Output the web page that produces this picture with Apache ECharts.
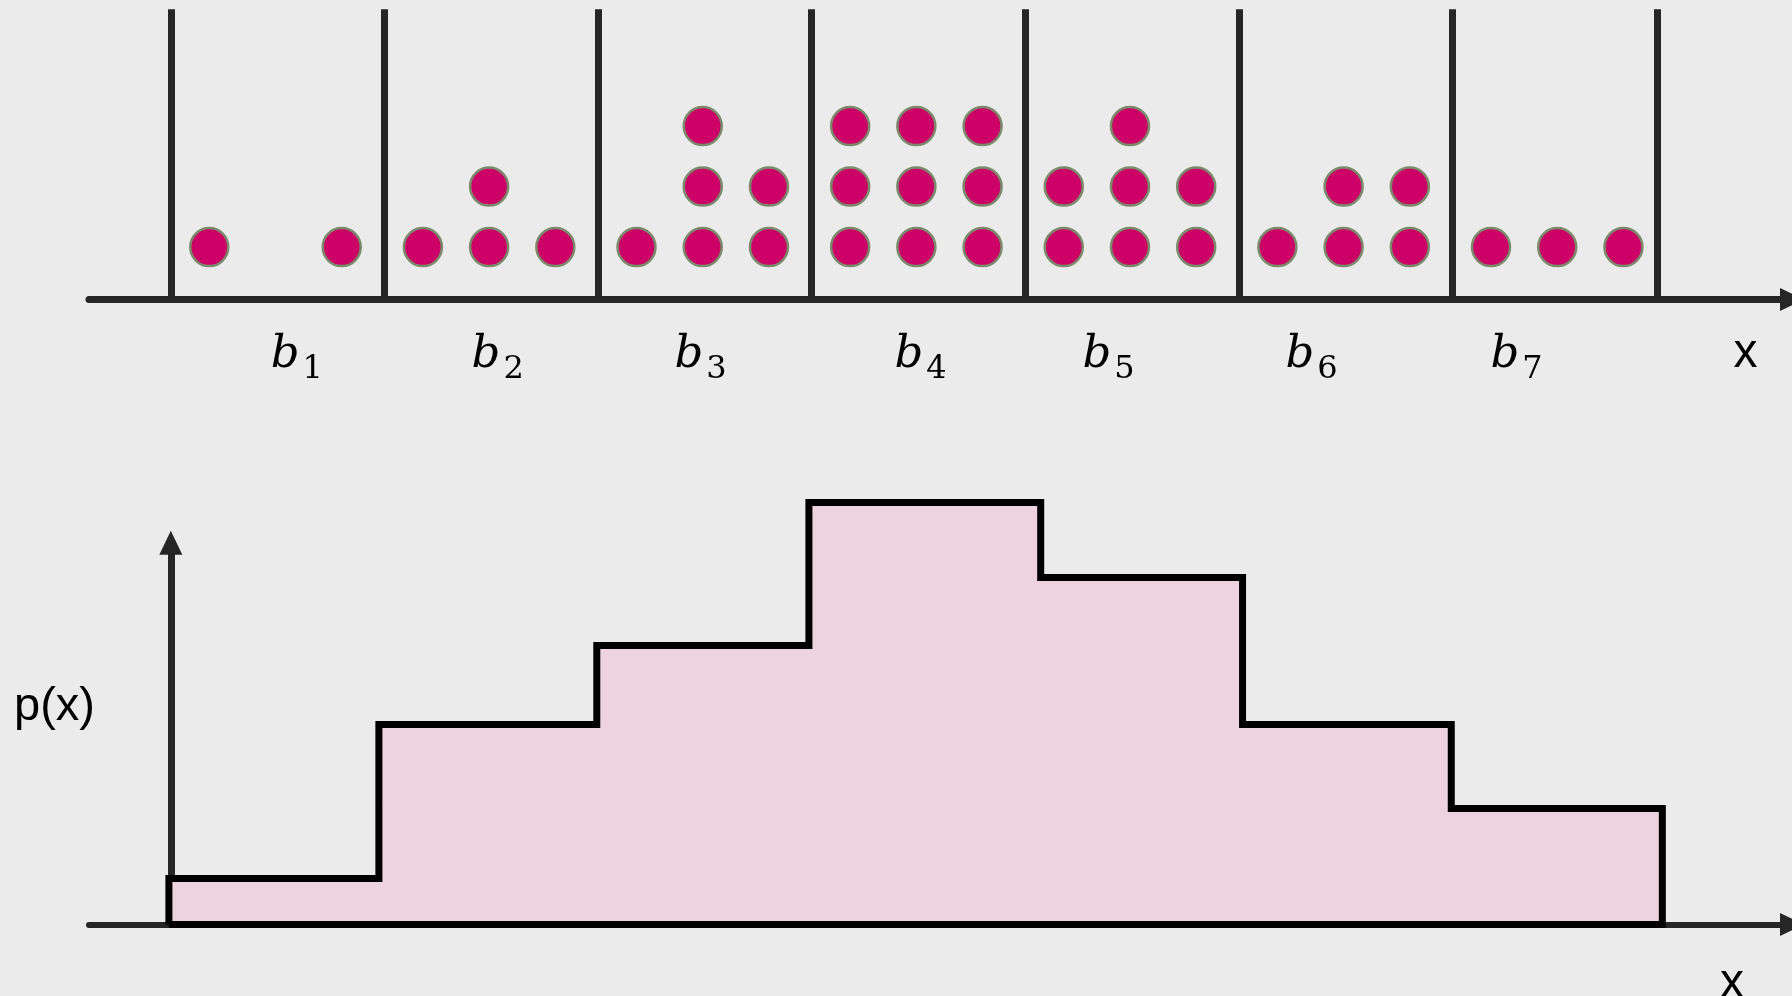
<!DOCTYPE html>
<html>
<head>
<meta charset="utf-8">
<script src="https://cdn.jsdelivr.net/npm/echarts@6/dist/echarts.min.js"></script>
<style>
  * { margin: 0; padding: 0; }
  body { background: #ebebeb; }
  #main { width: 1792px; height: 996px; }
</style>
</head>
<body>
<div id="main"></div>
<script>
// bin dividers of the top panel (x in bin-width units)
const binEdges = [0, 1, 2, 3, 4, 5, 6, 6.955];
// dots per column (left, middle, right) for each bin
const colCounts = [[1, 0, 1], [1, 2, 1], [1, 3, 2], [3, 3, 3], [2, 3, 2], [1, 2, 2], [1, 1, 1]];
const binNames = ["1", "2", "3", "4", "5", "6", "7"];
const labelAt = [0.59, 1.53, 2.48, 3.51, 4.39, 5.34, 6.3];
// histogram of the bottom panel
const histEdges = [-0.009, 0.974, 1.994, 2.987, 4.072, 5.017, 5.994, 6.982];
const pValues = [0.46, 2.0, 2.79, 4.22, 3.47, 2.0, 1.16];

const slotOffsets = [0.18, 0.49, 0.8];
const rowBase = 0.866;

var dots = [];
for (var i = 0; i < colCounts.length; i++) {
  for (var j = 0; j < 3; j++) {
    for (var k = 0; k < colCounts[i][j]; k++) {
      dots.push([binEdges[i] + slotOffsets[j], rowBase + k]);
    }
  }
}

// outline of the step histogram, closed along the axis
var steps = [[histEdges[0], 0]];
for (var n = 0; n < pValues.length; n++) {
  steps.push([histEdges[n], pValues[n]]);
  steps.push([histEdges[n + 1], pValues[n]]);
}
steps.push([histEdges[histEdges.length - 1], 0]);
steps.push([histEdges[0], 0]);

var axisColor = "#262626";
var chart = echarts.init(document.getElementById("main"));
chart.setOption({
  backgroundColor: "#ebebeb",
  animation: false,
  grid: [
    { left: 89, width: 1706, top: 9.3, height: 290.2 },
    { left: 89, width: 1706, top: 542.7, height: 381.9 }
  ],
  xAxis: [
    {
      type: "value",
      gridIndex: 0,
      min: -0.383,
      max: 7.589,
      axisLine: {
        lineStyle: { color: axisColor, width: 7 },
        symbol: ["none", "triangle"],
        symbolSize: [23, 24]
      },
      axisTick: { show: false },
      splitLine: { show: false },
      axisLabel: {
        customValues: labelAt,
        margin: 25,
        formatter: function (value) {
          var idx = labelAt.indexOf(value);
          return "{b|b}{s|" + binNames[idx] + "}";
        },
        rich: {
          b: { fontFamily: "DejaVu Serif", fontStyle: "italic", fontSize: 45, color: "#000" },
          s: { fontFamily: "DejaVu Serif", fontSize: 32, color: "#000", padding: [29, 0, 0, 3] }
        }
      }
    },
    {
      type: "value",
      gridIndex: 1,
      min: -0.383,
      max: 7.589,
      axisLine: {
        lineStyle: { color: axisColor, width: 6 },
        symbol: ["none", "triangle"],
        symbolSize: [23, 24]
      },
      axisTick: { show: false },
      splitLine: { show: false },
      axisLabel: { show: false }
    }
  ],
  yAxis: [
    { type: "value", gridIndex: 0, min: 0, max: 4.797, show: false },
    {
      type: "value",
      gridIndex: 1,
      min: 0,
      max: 3.819,
      axisLine: {
        show: true,
        lineStyle: { color: axisColor, width: 7 },
        symbol: ["none", "triangle"],
        symbolSize: [23, 24]
      },
      axisTick: { show: false },
      splitLine: { show: false },
      axisLabel: { show: false }
    }
  ],
  series: [
    {
      type: "scatter",
      xAxisIndex: 0,
      yAxisIndex: 0,
      data: dots,
      symbol: "circle",
      symbolSize: 38,
      itemStyle: { color: "#cc0066", borderColor: "#7c8a6c", borderWidth: 2.5, opacity: 1 },
      silent: true,
      markLine: {
        silent: true,
        symbol: "none",
        label: { show: false },
        lineStyle: { color: axisColor, width: 7, type: "solid" },
        data: binEdges.map(function (e) { return { xAxis: e }; })
      }
    },
    {
      type: "line",
      xAxisIndex: 1,
      yAxisIndex: 1,
      data: steps,
      showSymbol: false,
      clip: false,
      silent: true,
      lineStyle: { color: "#000", width: 7, join: "miter" },
      areaStyle: { color: "#edd3dd", opacity: 1 }
    }
  ],
  graphic: [
    {
      type: "text", x: 1745.5, y: 354, z: 10,
      style: { text: "x", fontFamily: "Liberation Sans", fontSize: 48, fill: "#000", textAlign: "center", textVerticalAlign: "middle" }
    },
    {
      type: "text", x: 1732, y: 984, z: 10,
      style: { text: "x", fontFamily: "Liberation Sans", fontSize: 48, fill: "#000", textAlign: "center", textVerticalAlign: "middle" }
    },
    {
      type: "text", x: 54.5, y: 707, z: 10,
      style: { text: "p(x)", fontFamily: "Liberation Sans", fontSize: 47, fill: "#000", textAlign: "center", textVerticalAlign: "middle" }
    }
  ]
});
</script>
</body>
</html>
